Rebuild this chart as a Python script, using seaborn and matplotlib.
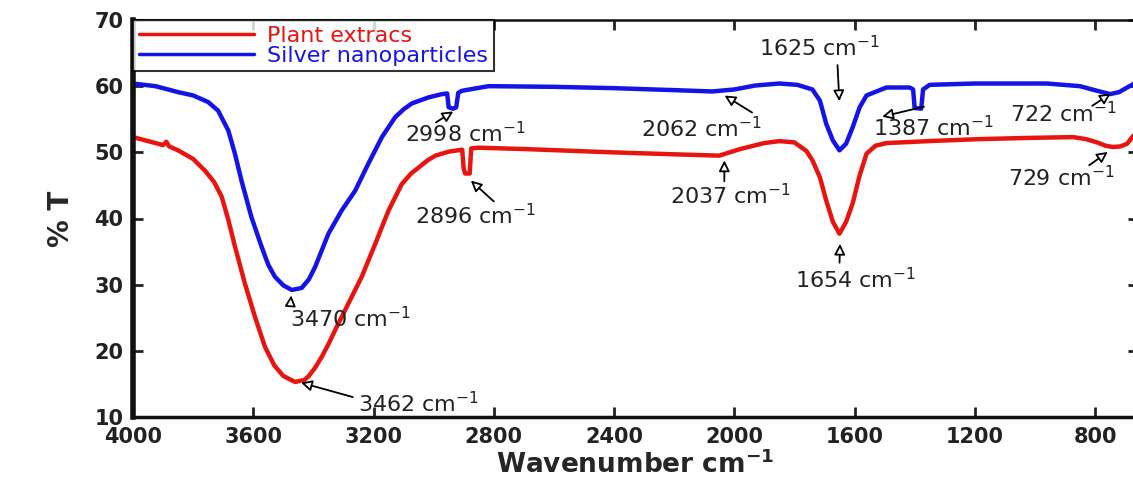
import matplotlib
matplotlib.use("Agg")
import matplotlib.pyplot as plt
import seaborn as sns
import pandas as pd

# ---------------- data ----------------
plant_wn = [4000, 3950, 3900, 3889, 3880, 3850, 3800, 3760, 3730, 3705, 3683, 3661,
            3628, 3594, 3561, 3530, 3500, 3461, 3430, 3417, 3395, 3372, 3350, 3328,
            3283, 3239, 3194, 3150, 3106, 3075, 3050, 3020, 2994, 2950, 2905, 2900,
            2895, 2880, 2875, 2850, 2700, 2407, 2200, 2050, 1980, 1900, 1850, 1800,
            1760, 1740, 1715, 1694, 1672, 1650, 1628, 1606, 1583, 1560, 1530, 1494,
            1350, 1183, 1000, 873, 830, 793, 765, 740, 715, 693, 673, 657]
plant_t = [52.3, 51.7, 51.1, 51.6, 50.9, 50.3, 49.0, 47.2, 45.5, 43.3, 39.8, 35.8,
           30.2, 25.1, 20.6, 17.8, 16.2, 15.3, 15.6, 16.1, 17.4, 19.1, 21.0, 23.1,
           27.2, 31.2, 36.2, 41.2, 45.2, 46.8, 47.7, 48.8, 49.5, 50.1, 50.4, 47.5,
           46.8, 46.8, 50.6, 50.7, 50.5, 50.0, 49.7, 49.5, 50.5, 51.4, 51.7, 51.5,
           50.2, 48.8, 46.2, 42.7, 39.5, 37.7, 39.5, 42.3, 46.5, 49.8, 51.0, 51.4,
           51.7, 52.0, 52.2, 52.3, 52.0, 51.5, 51.0, 50.8, 50.9, 51.3, 52.5, 53.2]

silver_wn = [4000, 3925, 3850, 3800, 3750, 3717, 3683, 3661, 3639, 3606, 3572, 3550,
             3528, 3500, 3472, 3439, 3415, 3394, 3372, 3350, 3306, 3261, 3217, 3172,
             3128, 3100, 3072, 3017, 2972, 2955, 2950, 2935, 2925, 2918, 2906, 2817,
             2600, 2400, 2200, 2073, 2000, 1930, 1850, 1790, 1740, 1715, 1694, 1672,
             1650, 1628, 1606, 1583, 1560, 1494, 1417, 1405, 1400, 1378, 1372, 1350,
             1200, 960, 850, 793, 750, 720, 693, 673, 657]
silver_t = [60.4, 60.0, 59.1, 58.6, 57.6, 56.3, 53.3, 49.8, 45.7, 40.2, 35.7, 33.0,
            31.2, 29.9, 29.2, 29.5, 30.8, 32.7, 35.2, 37.7, 41.2, 44.2, 48.3, 52.3,
            55.3, 56.5, 57.4, 58.3, 58.8, 58.9, 56.8, 56.6, 56.8, 59.0, 59.3, 60.0,
            59.9, 59.7, 59.4, 59.2, 59.5, 60.1, 60.4, 60.2, 59.5, 57.8, 54.3, 51.8,
            50.3, 51.3, 53.8, 56.8, 58.6, 59.8, 59.8, 59.5, 56.7, 56.6, 59.5, 60.2,
            60.4, 60.4, 60.0, 59.3, 58.8, 59.1, 59.8, 60.3, 60.8]

series_names = ["Plant extracs", "Silver nanoparticles"]
series_colors = ["#e8140f", "#1414e6"]

x_ticks = [4000, 3600, 3200, 2800, 2400, 2000, 1600, 1200, 800]
y_ticks = [10, 20, 30, 40, 50, 60, 70]

# peak labels: text, text position, alignment, arrow tail, arrow tip
peak_labels = [
    ("2998", (2893, 52.9), "center", (3000, 54.3), (2927, 56.4)),
    ("2062", (2110, 53.6), "center", (1933, 55.8), (2040, 58.8)),
    ("1625", (1717, 65.8), "center", (1657, 63.6), (1650, 57.3)),
    ("1387", (1337, 53.7), "center", (1360, 57.0), (1517, 55.3)),
    ("722", (1083, 55.8), "left", (817, 56.8), (740, 59.1)),
    ("2896", (2860, 40.5), "center", (2793, 42.3), (2883, 46.0)),
    ("2037", (2013, 43.5), "center", (2033, 45.2), (2033, 49.2)),
    ("729", (1090, 46.2), "left", (827, 47.8), (750, 50.3)),
    ("1654", (1597, 30.7), "center", (1650, 32.9), (1648, 36.6)),
    ("3470", (3277, 24.9), "center", (3477, 26.6), (3473, 28.8)),
    ("3462", (3050, 12.1), "center", (3260, 12.9), (3450, 15.3)),
]

df = pd.concat([
    pd.DataFrame({"wn": plant_wn, "T": plant_t, "sample": series_names[0]}),
    pd.DataFrame({"wn": silver_wn, "T": silver_t, "sample": series_names[1]}),
])

sns.set_style("ticks")
plt.rcParams['font.family'] = ['DejaVu Sans']

fig = plt.figure(figsize=(11.33, 4.84), dpi=100)
ax = fig.add_axes([133 / 1133, 67 / 484, 1005 / 1133, 397 / 484])

sns.lineplot(data=df, x="wn", y="T", hue="sample", palette=series_colors,
             linewidth=3.2, ax=ax, legend=False)

ax.set_xlim(4000, 657)
ax.set_ylim(10, 70)
ax.set_xticks(x_ticks)
ax.set_yticks(y_ticks)
ax.tick_params(direction="in", length=7, width=2, top=True, right=True,
               labelsize=15, pad=7, colors="#222222")
for lab in ax.get_xticklabels() + ax.get_yticklabels():
    lab.set_fontweight("bold")

ax.spines["left"].set_linewidth(4)
ax.spines["bottom"].set_linewidth(2.5)
ax.spines["top"].set_linewidth(1.8)
ax.spines["right"].set_linewidth(1.8)
for s in ax.spines.values():
    s.set_color("#111111")

ax.set_xlabel("Wavenumber cm$^{\\mathbf{-1}}$", fontsize=19, fontweight="bold", labelpad=3)
ax.set_ylabel("% T", fontsize=20, fontweight="bold", labelpad=14)

# legend
handles = [plt.Line2D([], [], color=c, lw=2.5) for c in series_colors]
leg = ax.legend(handles, series_names, loc="upper left", fontsize=16,
                handlelength=5.2, frameon=True, fancybox=False, borderaxespad=0.0,
                labelspacing=0.0, borderpad=0.25, handletextpad=0.6)
leg.get_frame().set_edgecolor("black")
leg.get_frame().set_linewidth(1.5)
for txt, c in zip(leg.get_texts(), series_colors):
    txt.set_color(c)

for num, txt_xy, align, tail, tip in peak_labels:
    ax.text(txt_xy[0], txt_xy[1], num + " cm$^{-1}$", fontsize=16,
            color="#222222", ha=align, va="center")
    ax.annotate("", xy=tip, xytext=tail,
                arrowprops=dict(arrowstyle="-|>", fc="white", ec="black",
                                lw=1.3, mutation_scale=16))

fig.savefig("out.png", dpi=100)
